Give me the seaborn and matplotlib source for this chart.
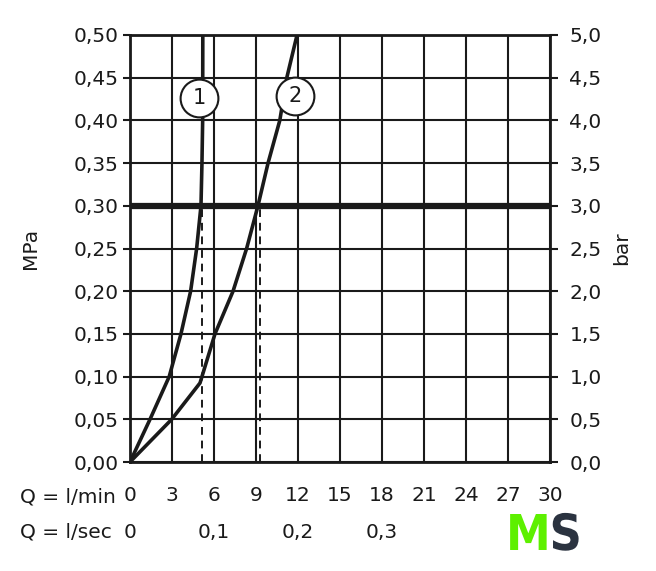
import matplotlib
matplotlib.use("Agg")
import matplotlib.pyplot as plt
import matplotlib.patheffects as pe
import seaborn as sns
import pandas as pd

# ---- data ----
curve1_q = [0, 1.43, 2.8, 3.64, 4.33, 4.76, 5.07, 5.14, 5.19, 5.2]
curve1_p = [0, 0.05, 0.10, 0.15, 0.20, 0.25, 0.30, 0.35, 0.40, 0.50]
curve2_q = [0, 2.98, 5.0, 5.14, 6.07, 7.36, 8.33, 9.14, 9.86, 10.7, 11.2, 11.93]
curve2_p = [0, 0.05, 0.0925, 0.10, 0.15, 0.20, 0.25, 0.30, 0.35, 0.40, 0.45, 0.50]
ref_pressure = 0.30
dashed_q = [5.12, 9.3]
label_names = ["1", "2"]
label_q = [4.93, 11.79]
label_p = [0.4266, 0.4286]
mpa_ticks = [0, 0.05, 0.10, 0.15, 0.20, 0.25, 0.30, 0.35, 0.40, 0.45, 0.50]
bar_ticks = [0, 0.5, 1.0, 1.5, 2.0, 2.5, 3.0, 3.5, 4.0, 4.5, 5.0]
lmin_ticks = [0, 3, 6, 9, 12, 15, 18, 21, 24, 27, 30]
lsec_ticks = [0, 0.1, 0.2, 0.3]

sns.set_style("white")
plt.rcParams['font.family'] = ['DejaVu Sans']
FS = 14.5
INK = "#1a1a1a"

fig = plt.figure(figsize=(6.56, 5.71), dpi=100)
ax = fig.add_axes([130/656, 1-462/571, 420/656, 427/571])

df1 = pd.DataFrame({"Q": curve1_q, "P": curve1_p})
df2 = pd.DataFrame({"Q": curve2_q, "P": curve2_p})
sns.lineplot(data=df1, x="Q", y="P", sort=False, estimator=None, color=INK, lw=2.6, ax=ax, zorder=4)
sns.lineplot(data=df2, x="Q", y="P", sort=False, estimator=None, color=INK, lw=2.6, ax=ax, zorder=4)

ax.axhline(ref_pressure, color=INK, lw=4.5, zorder=5)
ax.vlines(dashed_q, 0, ref_pressure, colors=INK, lw=1.4, linestyles=(0, (4, 3)), zorder=3)

ax.scatter(label_q, label_p, s=740, facecolor="white", edgecolor=INK, linewidth=1.5, zorder=6)
for n, q, p in zip(label_names, label_q, label_p):
    ax.text(q, p, n, ha="center", va="center", fontsize=15, color=INK, zorder=7)

ax.set_xlim(0, 30)
ax.set_ylim(0, 0.5)
ax.set_xticks(lmin_ticks)
ax.set_yticks(mpa_ticks)
ax.set_xticklabels([str(v) for v in lmin_ticks], fontsize=FS)
ax.set_yticklabels([f"{v:.2f}".replace(".", ",") for v in mpa_ticks], fontsize=FS)
ax.grid(True, color=INK, lw=1.5)
ax.set_axisbelow(True)
for s in ax.spines.values():
    s.set_color(INK)
    s.set_linewidth(2)
ax.tick_params(axis="both", direction="out", length=5, width=1.5, color=INK, labelcolor=INK)
ax.tick_params(axis="x", pad=12)
ax.tick_params(axis="y", pad=3)
ax.set_xlabel("")
ax.set_ylabel("MPa", fontsize=FS, color=INK)
ax.yaxis.set_label_coords((40-130)/420, 0.5)

ax2 = ax.twinx()
ax2.set_ylim(0, 5)
ax2.set_yticks(bar_ticks)
ax2.set_yticklabels([f"{v:.1f}".replace(".", ",") for v in bar_ticks], fontsize=FS)
ax2.tick_params(axis="y", direction="out", length=6, width=1.5, color=INK, labelcolor=INK, pad=8)
ax2.set_ylabel("bar", fontsize=FS, color=INK)
ax2.yaxis.set_label_coords((612-130)/420, 0.5)
for s in ax2.spines.values():
    s.set_visible(False)

for v in lsec_ticks:
    ax.text(v*60, (462-532)/427, f"{v:g}".replace(".", ","), transform=ax.get_xaxis_transform(),
            ha="center", va="center", fontsize=FS, color=INK)

fig.text(20/656, 1-497/571, "Q = l/min", ha="left", va="center", fontsize=FS, color=INK)
fig.text(20/656, 1-532/571, "Q = l/sec", ha="left", va="center", fontsize=FS, color=INK)

fig.text(506/656, 1-536/571, "M", ha="left", va="center", fontsize=36, fontweight="bold",
         fontstretch="condensed", color="#5df000", family=["DejaVu Sans"])
fig.text(582/656, 1-536/571, "S", ha="right", va="center", fontsize=36, fontweight="bold",
         fontstretch="condensed", color="#2b3340", family=["DejaVu Sans"],
         path_effects=[pe.withStroke(linewidth=3, foreground="white")])

fig.savefig("out.png", dpi=100, facecolor="white")
